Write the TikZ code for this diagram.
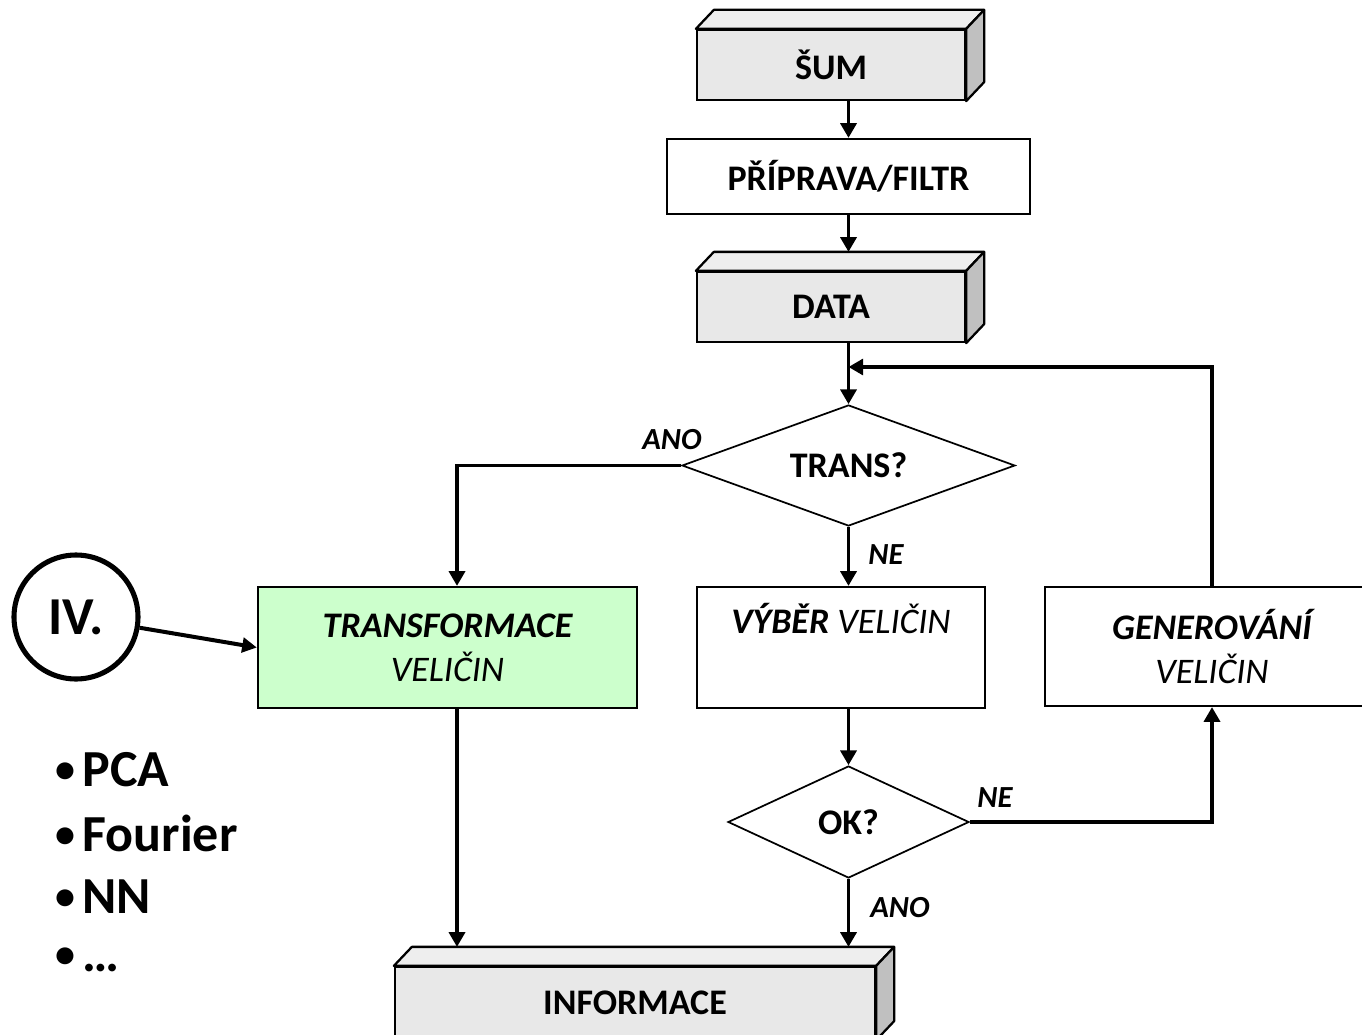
\documentclass[tikz,border=0pt]{standalone}
\usepackage{fontspec}
\setmainfont{Carlito}
\usetikzlibrary{shapes.geometric,arrows.meta}

\definecolor{slabfront}{HTML}{E8E8E8}
\definecolor{slabtop}{HTML}{EEEEEE}
\definecolor{slabside}{HTML}{C0C0C0}
\definecolor{mintgreen}{HTML}{CCFFCC}

% front face of a slab is the node; top and side faces are added here
\newcommand\slabfaces[1]{%
  \filldraw[fill=slabtop, line width=1.7pt, line join=round]
    (#1.north west) -- ++(18,-19) -- ([shift={(18,-19)}]#1.north east)
    -- (#1.north east) -- cycle;
  \filldraw[fill=slabside, line width=1.7pt, line join=round]
    (#1.north east) -- ++(18,-19) -- ([shift={(18,-19)}]#1.south east)
    -- (#1.south east) -- cycle;
}
% small list bullet followed by a thin gap
\newcommand\listdot{{\fontsize{30}{30}\selectfont\raisebox{0.1em}{•}}\hspace{0.14em}}

\begin{document}
\begin{tikzpicture}[x=0.75pt, y=-0.75pt,
  boxtext/.style={font=\fontsize{27}{33}\selectfont},
  slab/.style={draw, line width=1.7pt, fill=slabfront, inner sep=0pt,
    font=\fontsize{27}{33}\selectfont\bfseries},
  stepbox/.style={draw, line width=1.7pt, fill=white, inner sep=0pt,
    align=center, boxtext},
  decision/.style={draw, diamond, line width=1.3pt, fill=white, inner sep=0pt,
    font=\fontsize{27}{33}\selectfont\bfseries},
  arr/.style={line width=2.5pt, -{Triangle[length=11pt,width=12pt]}},
  lbl/.style={font=\fontsize{23}{27}\selectfont\bfseries\itshape},
  bullet/.style={anchor=west, inner sep=0pt, font=\fontsize{39}{47}\selectfont\bfseries},
]
\useasboundingbox (0,0) rectangle (1362,1034);

% process chain
\node[slab, minimum width=268*0.75pt, minimum height=70*0.75pt] (sum) at (831,65) {ŠUM};
\slabfaces{sum}
\node[stepbox, minimum width=363*0.75pt, minimum height=75*0.75pt, font=\fontsize{27}{33}\selectfont\bfseries] (prep) at (848.5,176.5) {PŘÍPRAVA/FILTR};
\node[slab, minimum width=268*0.75pt, minimum height=70*0.75pt] (data) at (831,307) {DATA};
\slabfaces{data}

\node[decision, shape aspect=2.75, minimum width=333*0.75pt, minimum height=121*0.75pt] (trans) at (848.5,465.5) {TRANS?};

\node[stepbox, fill=mintgreen, minimum width=379*0.75pt, minimum height=121*0.75pt] (transf) at (447.5,647.5)
  {{\bfseries\itshape TRANSFORMACE}\\{\itshape VELIČIN}};
\node[stepbox, minimum width=288*0.75pt, minimum height=121*0.75pt] (vyber) at (841,647.5) {};
\node[boxtext, inner sep=0pt] (vybertxt) at ([shift={(0,33)}]vyber.north)
  {{\bfseries\itshape VÝBĚR} {\itshape VELIČIN}};
\node[stepbox, minimum width=334*0.75pt, minimum height=119*0.75pt] (gen) at (1212,646.5)
  {{\bfseries\itshape GENEROVÁNÍ}\\{\itshape VELIČIN}};

\node[decision, shape aspect=2.15, minimum width=241*0.75pt, minimum height=112*0.75pt] (ok) at (848.5,822) {OK?};

\node[slab, minimum width=480*0.75pt, minimum height=72*0.75pt] (info) at (635,1003) {INFORMACE};
\slabfaces{info}

% reference points on the back edges of the slabs and the loop junction
\coordinate (datatop) at ([shift={(0,-19)}]data.north);
\coordinate (infotop) at ([shift={(0,-19)}]info.north);
\coordinate (joint) at (848.5,367);
\coordinate (tcol) at (457,0);

% connectors
\draw[arr] (sum.south -| prep.north) -- (prep.north);
\draw[arr] (prep.south) -- (prep.south |- datatop);
\draw[arr] (data.south -| trans.north) -- (trans.north);
\draw[arr] (gen.north) |- (joint);
\draw[arr] (trans.west) -| (tcol |- transf.north);
\draw[arr] (trans.south) -- (trans.south |- vyber.north);
\draw[arr] (vyber.south -| ok.north) -- (ok.north);
\draw[arr] (ok.east) -| (gen.south);
\draw[arr] (ok.south) -- (ok.south |- infotop);
\draw[arr] (tcol |- transf.south) -- (tcol |- infotop);

% branch labels
\node[lbl] (ano1) at (672,440) {ANO};
\node[lbl] (ne1) at (886,555) {NE};
\node[lbl] (ne2) at (995,798) {NE};
\node[lbl] (ano2) at (900,908) {ANO};

% chapter marker
\node[draw, circle, line width=3.8pt, minimum size=124*0.75pt, inner sep=0pt,
  font=\fontsize{40}{48}\selectfont\bfseries] (iv) at (76,617) {IV.};
\draw[line width=3pt, -{Triangle[length=11pt,width=11pt]}] (iv) -- (transf.west);

% list of methods
\node[bullet] (b1) at (55,770) {\listdot PCA};
\node[bullet] (b2) at (55,833) {\listdot Fourier};
\node[bullet] (b3) at (55,897) {\listdot NN};
\node[bullet] (b4) at (55,960) {\listdot …};
\end{tikzpicture}
\end{document}
